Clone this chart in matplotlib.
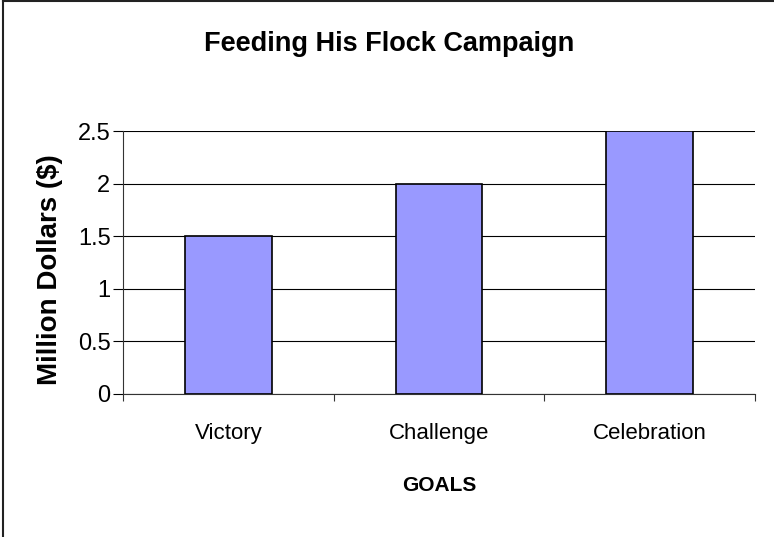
import matplotlib
matplotlib.use('Agg')
import matplotlib.pyplot as plt
from matplotlib.lines import Line2D
from matplotlib import font_manager

# Chart data
categories = ['Victory', 'Challenge', 'Celebration']
goal_values = [1.5, 2.0, 2.5]  # million dollars
y_ticks = [0, 0.5, 1, 1.5, 2, 2.5]
y_tick_labels = ['0', '0.5', '1', '1.5', '2', '2.5']

# Pick a condensed font for the category axis if one is installed
names = {f.name for f in font_manager.fontManager.ttflist}
narrow = 'Liberation Sans Narrow' if 'Liberation Sans Narrow' in names else None

W, H = 774, 537
fig = plt.figure(figsize=(W / 100, H / 100), dpi=100)
fig.patch.set_facecolor('white')

left, right, top, bottom = 123, 755, 131, 394
ax = fig.add_axes([left / W, 1 - bottom / H, (right - left) / W, (bottom - top) / H])

x = list(range(len(categories)))
ax.bar(x, goal_values, width=0.41, color='#9999FF', edgecolor='black',
       linewidth=1.2, zorder=3)

ax.set_xlim(-0.5, len(categories) - 0.5)
ax.set_ylim(0, 2.5)

# Gridlines
ax.set_yticks(y_ticks)
ax.set_yticklabels(y_tick_labels, fontsize=17, family='Liberation Sans')
ax.yaxis.grid(True, color='black', linewidth=0.8, zorder=0)
ax.set_axisbelow(True)

# Category ticks at the boundaries, labels at the centres
ax.set_xticks(x)
if narrow:
    ax.set_xticklabels(categories, fontsize=20, family=narrow)
else:
    ax.set_xticklabels(categories, fontsize=16, family='Liberation Sans')
ax.set_xticks([i - 0.5 for i in range(len(categories) + 1)], minor=True)
ax.tick_params(axis='x', which='major', length=0, pad=21)
ax.tick_params(axis='x', which='minor', length=5, width=0.8, color='#333333')
ax.tick_params(axis='y', length=7, width=0.8, pad=2, color='black')

for s in ['top', 'right']:
    ax.spines[s].set_visible(False)
for s in ['left', 'bottom']:
    ax.spines[s].set_color('#333333')
    ax.spines[s].set_linewidth(0.8)

# Axis titles
if narrow:
    ax.set_xlabel('GOALS', fontsize=20, fontweight='bold', family=narrow, labelpad=20)
else:
    ax.set_xlabel('GOALS', fontsize=15, fontweight='bold', family='Liberation Sans', labelpad=23)
fig.text(50 / W, 1 - 270 / H, 'Million Dollars ($)', rotation=90, fontsize=20,
         fontweight='bold', family='Liberation Sans', ha='center', va='center')

# Chart title
fig.text(389 / W, 1 - 44 / H, 'Feeding His Flock Campaign', fontsize=19.5,
         fontweight='bold', family='Liberation Sans', ha='center', va='center')

# Chart border (left and top edges visible)
fig.add_artist(Line2D([3.5 / W, 3.5 / W], [0, 1 - 1 / H], transform=fig.transFigure,
                      color='#222222', linewidth=1.5))
fig.add_artist(Line2D([3.5 / W, 1], [1 - 1 / H, 1 - 1 / H], transform=fig.transFigure,
                      color='#222222', linewidth=1.5))

plt.savefig('out.png', dpi=100)
